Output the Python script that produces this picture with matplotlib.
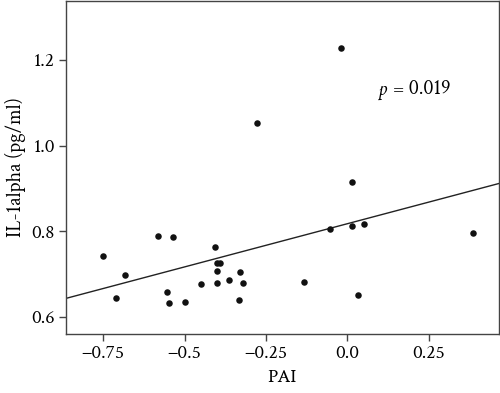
import numpy as np
import matplotlib
matplotlib.use("Agg")
import matplotlib.pyplot as plt

pai = [-0.750, -0.712, -0.683, -0.582, -0.535, -0.553, -0.548, -0.499, -0.450,
       -0.407, -0.400, -0.392, -0.400, -0.401, -0.363, -0.330, -0.322, -0.333,
       -0.279, -0.133, -0.053, -0.021, 0.013, 0.013, 0.052, 0.034, 0.385]
il1a = [0.742, 0.644, 0.697, 0.789, 0.787, 0.659, 0.632, 0.634, 0.677,
        0.764, 0.725, 0.726, 0.707, 0.680, 0.685, 0.705, 0.679, 0.639,
        1.053, 0.681, 0.805, 1.229, 0.914, 0.811, 0.816, 0.651, 0.795]
xticks = [-0.75, -0.5, -0.25, 0.0, 0.25]
xticklabels = ["\u22120.75", "\u22120.5", "\u22120.25", "0.0", "0.25"]
yticks = [0.6, 0.8, 1.0, 1.2]
yticklabels = ["0.6", "0.8", "1.0", "1.2"]

FAM = ['Crimson Text', 'Crimson Pro', 'Liberation Serif', 'DejaVu Serif']
plt.rcParams['font.family'] = FAM

fig = plt.figure(figsize=(5.0, 3.93), dpi=100)
ax = fig.add_axes([0.132, 0.150, 0.8654, 0.8475])

x = np.array(pai)
y = np.array(il1a)
slope, intercept = np.polyfit(x, y, 1)
xl = np.array([-0.8646, 0.465])
ax.plot(xl, intercept + slope * xl, color='#222222', lw=1.0)
ax.scatter(x, y, s=22, color='#111111', zorder=3, linewidths=0)

ax.set_xlim(-0.8646, 0.465)
ax.set_ylim(0.5596, 1.338)
ax.set_xticks(xticks)
ax.set_xticklabels(xticklabels, family=FAM)
ax.set_yticks(yticks)
ax.set_yticklabels(yticklabels, family=FAM)
ax.tick_params(labelsize=14, length=5, width=1, color='#444444', pad=3)
for s in ax.spines.values():
    s.set_color('#444444')
    s.set_linewidth(1.0)

ax.set_xlabel('PAI', fontsize=14, labelpad=5, family=FAM)
ax.set_ylabel('IL-1alpha (pg/ml)', fontsize=14.5, labelpad=4, family=FAM)
ax.text(0.094, 1.130, 'p', fontsize=15, ha='left', va='center', family=FAM, style='italic')
ax.text(0.139, 1.132, '= 0.019', fontsize=14.5, ha='left', va='center', family=FAM)

fig.savefig('out.png', dpi=100)
